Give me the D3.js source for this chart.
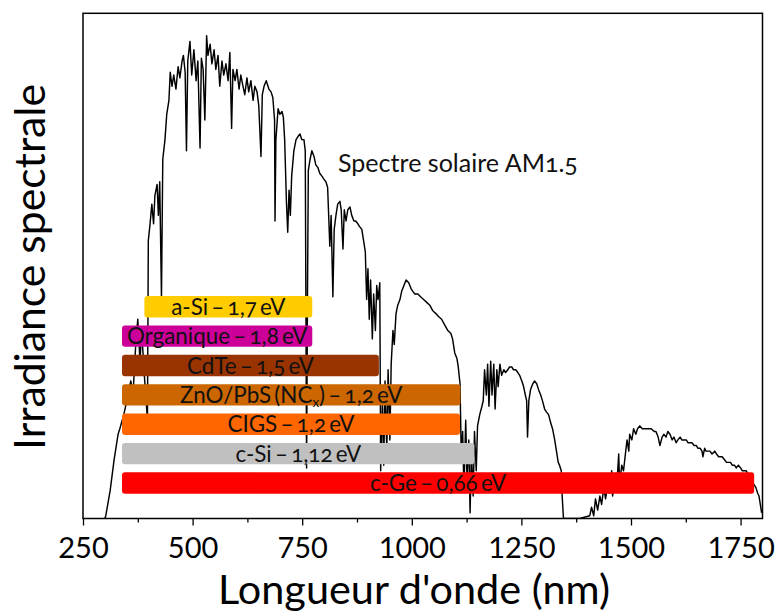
<!DOCTYPE html>
<html><head><meta charset="utf-8">
<script src="https://cdn.jsdelivr.net/npm/d3@7"></script>
<style>body{margin:0;background:#fff} svg{display:block}</style>
</head><body><svg id="chart" width="776" height="612"></svg>
<script>
// ---- data ----
const wavelengths = [300,302,312,321,330,334,343,353,359,364,371,375,380,384,389,394,397,399,403,407,411,414,419,422,425,429,432,437,441,446,449,453,457,462,467,471,476,479,483,486,489,494,498,503,508,512,517,520,524,528,532,535,540,544,549,553,558,562,567,571,576,581,585,589,592,597,601,606,610,615,619,624,628,633,638,642,647,651,656,659,663,668,674,679,683,687,688,690,695,699,704,707,710,714,717,720,723,726,731,736,740,745,749,754,757,760,762,764,768,772,777,781,786,790,795,799,804,808,813,816,820,823,827,831,836,839,843,846,850,854,859,863,868,872,877,881,886,890,894,897,900,903,906,910,913,917,920,923,927,929,933,936,939,943,946,950,953,957,960,964,968,973,977,982,987,993,998,1002,1007,1014,1020,1027,1034,1041,1048,1055,1061,1068,1075,1082,1089,1093,1098,1103,1106,1110,1113,1116,1119,1123,1126,1130,1133,1136,1140,1143,1147,1150,1155,1160,1163,1166,1170,1173,1176,1180,1183,1187,1190,1194,1197,1201,1205,1210,1214,1219,1223,1228,1232,1237,1242,1246,1251,1255,1259,1262,1264,1267,1271,1276,1280,1285,1289,1294,1298,1303,1307,1312,1317,1321,1326,1330,1334,1337,1341,1343,1346,1351,1383,1406,1410,1415,1419,1424,1429,1433,1438,1442,1447,1451,1456,1458,1463,1467,1472,1474,1479,1483,1488,1491,1495,1497,1502,1506,1511,1515,1520,1526,1533,1539,1546,1553,1557,1562,1566,1571,1575,1580,1584,1589,1594,1598,1603,1607,1612,1616,1621,1626,1630,1635,1639,1644,1649,1653,1658,1662,1664,1668,1671,1676,1680,1685,1691,1695,1700,1704,1708,1713,1718,1722,1727,1731,1736,1740,1745,1750,1754,1759,1763,1770,1777,1785,1789,1792,1795,1798];
const irradiance = [0.00,0.01,0.10,0.21,0.30,0.32,0.37,0.44,0.49,0.44,0.64,0.71,0.56,0.67,0.53,0.42,0.35,0.99,1.05,1.12,1.05,1.15,1.19,1.08,1.20,0.79,1.28,1.35,1.44,1.49,1.59,1.54,1.58,1.53,1.61,1.57,1.63,1.65,1.59,1.31,1.63,1.70,1.58,1.67,1.56,1.63,1.32,1.64,1.60,1.42,1.72,1.65,1.69,1.62,1.67,1.60,1.65,1.54,1.63,1.58,1.62,1.56,1.66,1.39,1.60,1.56,1.60,1.53,1.58,1.54,1.51,1.57,1.52,1.56,1.49,1.54,1.52,1.47,1.29,1.51,1.54,1.56,1.53,1.52,1.50,1.42,1.06,1.35,1.46,1.44,1.45,1.43,1.35,1.13,1.02,1.17,1.08,1.22,1.31,1.35,1.36,1.37,1.35,1.35,1.31,0.18,0.78,1.24,1.28,1.31,1.29,1.26,1.25,1.23,1.22,1.21,1.20,1.18,0.97,1.08,0.79,1.03,1.08,1.12,1.13,1.10,0.96,1.10,1.06,1.10,1.11,1.08,1.06,1.06,1.05,1.04,1.03,0.99,0.95,0.78,0.89,0.71,0.85,0.64,0.80,0.67,0.83,0.78,0.84,0.17,0.42,0.19,0.49,0.24,0.53,0.28,0.55,0.67,0.62,0.73,0.76,0.78,0.81,0.83,0.85,0.84,0.82,0.81,0.80,0.80,0.79,0.78,0.77,0.76,0.74,0.73,0.72,0.71,0.69,0.67,0.66,0.64,0.59,0.57,0.54,0.48,0.21,0.31,0.10,0.35,0.14,0.28,0.02,0.24,0.08,0.31,0.17,0.33,0.37,0.40,0.42,0.53,0.44,0.55,0.40,0.56,0.44,0.55,0.39,0.53,0.47,0.55,0.51,0.53,0.52,0.53,0.54,0.54,0.53,0.53,0.52,0.51,0.49,0.47,0.44,0.42,0.29,0.42,0.46,0.48,0.49,0.48,0.46,0.44,0.42,0.39,0.38,0.37,0.34,0.32,0.28,0.24,0.20,0.19,0.17,0.08,0.00,0.00,0.00,0.01,0.04,0.01,0.07,0.03,0.08,0.05,0.11,0.07,0.12,0.09,0.17,0.08,0.14,0.10,0.23,0.12,0.19,0.17,0.24,0.28,0.24,0.30,0.28,0.32,0.30,0.32,0.33,0.32,0.32,0.32,0.32,0.31,0.31,0.29,0.26,0.29,0.30,0.29,0.31,0.30,0.28,0.29,0.27,0.28,0.29,0.28,0.28,0.28,0.27,0.27,0.27,0.26,0.26,0.25,0.25,0.24,0.22,0.25,0.24,0.24,0.24,0.23,0.24,0.23,0.22,0.22,0.22,0.21,0.20,0.20,0.20,0.19,0.19,0.18,0.19,0.18,0.17,0.17,0.17,0.15,0.13,0.11,0.09,0.08,0.05,0.02];

const xTicks = [250, 500, 750, 1000, 1250, 1500, 1750];
const xMinorTicks = [375, 625, 875, 1125, 1375, 1625];

const cellLabels = ["a-Si – 1,7 eV", "Organique – 1,8 eV", "CdTe – 1,5 eV", "ZnO/PbS (NC_x) – 1,2 eV", "CIGS – 1,2 eV", "c-Si – 1,12 eV", "c-Ge – 0,66 eV"];
const cellStart = [390, 339, 339, 339, 339, 339, 339];
const cellEnd = [773, 773, 925, 1111, 1110, 1143, 1781];
const cellColors = ["#FFCC00", "#CC0099", "#993300", "#CC6600", "#FF6600", "#C0C0C0", "#FF0000"];

const xTitle = "Longueur d'onde (nm)";
const yTitle = "Irradiance spectrale";
const spectrumLabel = "Spectre solaire AM1.5";

// ---- layout ----
const plotL = 83, plotR = 762.5, plotT = 13.3, plotB = 518.5;
const FONT = "Lato, 'Open Sans', sans-serif";
const labelTargetWidths = [113, 178, 128, 223, 124, 125, 136];

const svg = d3.select("#chart");
const x = d3.scaleLinear().domain([250, 1800]).range([plotL, plotR]);
const y = d3.scaleLinear().domain([0, 1.8]).range([plotB, plotT]);

svg.append("defs").append("clipPath").attr("id", "plotclip")
  .append("rect").attr("x", plotL).attr("y", plotT).attr("width", plotR - plotL).attr("height", plotB - plotT);

function fitFont(sel, target) {
  const w = sel.node().getComputedTextLength();
  const fs = parseFloat(sel.attr("font-size"));
  const nf = fs * target / w;
  sel.attr("font-size", nf);
  return nf;
}

// spectrum
const spectrum = wavelengths.map((w, i) => ({ w, v: irradiance[i] }));
const line = d3.line().x(d => x(d.w)).y(d => y(d.v));
svg.append("path").datum(spectrum)
  .attr("clip-path", "url(#plotclip)")
  .attr("d", line)
  .attr("fill", "none").attr("stroke", "#000").attr("stroke-width", 1.45)
  .attr("stroke-linejoin", "round");

// bars
const band = d3.scaleBand().domain(cellLabels).range([296, 493.7]).paddingInner(0.272).paddingOuter(0);
const bars = svg.append("g");
cellLabels.forEach((lab, i) => {
  bars.append("rect")
    .attr("x", x(cellStart[i])).attr("y", band(lab))
    .attr("width", x(cellEnd[i]) - x(cellStart[i])).attr("height", band.bandwidth())
    .attr("rx", 3).attr("ry", 3)
    .attr("fill", cellColors[i]);
});

const BASE_FS = 18, WORD_SP = -2.5;
function labelText(t, lab, fs) {
  const parts = lab.split("_x");
  if (parts.length > 1) {
    t.append("tspan").text(parts[0]);
    t.append("tspan").attr("font-size", fs * 0.6).attr("dy", "0.3em").text("x");
    t.append("tspan").attr("dy", "-0.18em").text(parts[1]);
  } else {
    t.text(lab);
  }
}
let sumW = 0;
cellLabels.forEach(lab => {
  const p = svg.append("text").attr("font-family", FONT).attr("font-size", BASE_FS)
    .style("word-spacing", WORD_SP + "px").style("font-variant-numeric", "oldstyle-nums");
  labelText(p, lab, BASE_FS);
  sumW += p.node().getBBox().width;
  p.remove();
});
const labelFS = BASE_FS * d3.sum(labelTargetWidths) / sumW;

cellLabels.forEach((lab, i) => {
  const cx = (x(cellStart[i]) + x(cellEnd[i])) / 2;
  const cy = band(lab) + band.bandwidth() / 2;
  const t = bars.append("text")
    .attr("x", cx).attr("y", cy)
    .attr("dy", "0.36em")
    .attr("text-anchor", "middle")
    .attr("font-family", FONT).attr("font-size", labelFS)
    .style("word-spacing", WORD_SP + "px")
    .style("font-variant-numeric", "oldstyle-nums")
    .attr("fill", "#111");
  labelText(t, lab, labelFS);
});

// spectrum annotation
const ann = svg.append("text").attr("x", 338).attr("y", 171.5)
  .attr("font-family", FONT).attr("font-size", 20)
  .style("font-variant-numeric", "oldstyle-nums")
  .attr("fill", "#111").text(spectrumLabel);
fitFont(ann, 240);

// axes
const axisG = svg.append("g").attr("transform", `translate(0,${plotB})`);
axisG.call(d3.axisBottom(x).tickValues(xTicks).tickSize(7).tickPadding(12).tickSizeOuter(0).tickFormat(d3.format("d")));
axisG.select(".domain").remove();
axisG.selectAll(".tick line").attr("stroke", "#000").attr("stroke-width", 1.3);
axisG.selectAll(".tick text").attr("font-family", FONT).attr("font-size", 29).attr("fill", "#000");
const minorG = svg.append("g").attr("transform", `translate(0,${plotB})`);
minorG.call(d3.axisBottom(x).tickValues(xMinorTicks).tickSize(4).tickFormat(""));
minorG.select(".domain").remove();
minorG.selectAll(".tick line").attr("stroke", "#000").attr("stroke-width", 1.3);

// frame
svg.append("rect").attr("x", plotL).attr("y", plotT).attr("width", plotR - plotL).attr("height", plotB - plotT)
  .attr("fill", "none").attr("stroke", "#000").attr("stroke-width", 1.5);

// titles
const xt = svg.append("text").attr("x", 414).attr("y", 604).attr("text-anchor", "middle")
  .attr("font-family", FONT).attr("font-size", 40).attr("fill", "#000").text(xTitle);
fitFont(xt, 392);
const yt = svg.append("text").attr("transform", "translate(45,267) rotate(-90)").attr("text-anchor", "middle")
  .attr("font-family", FONT).attr("font-size", 40).attr("fill", "#000").text(yTitle);
fitFont(yt, 366);
</script></body></html>
